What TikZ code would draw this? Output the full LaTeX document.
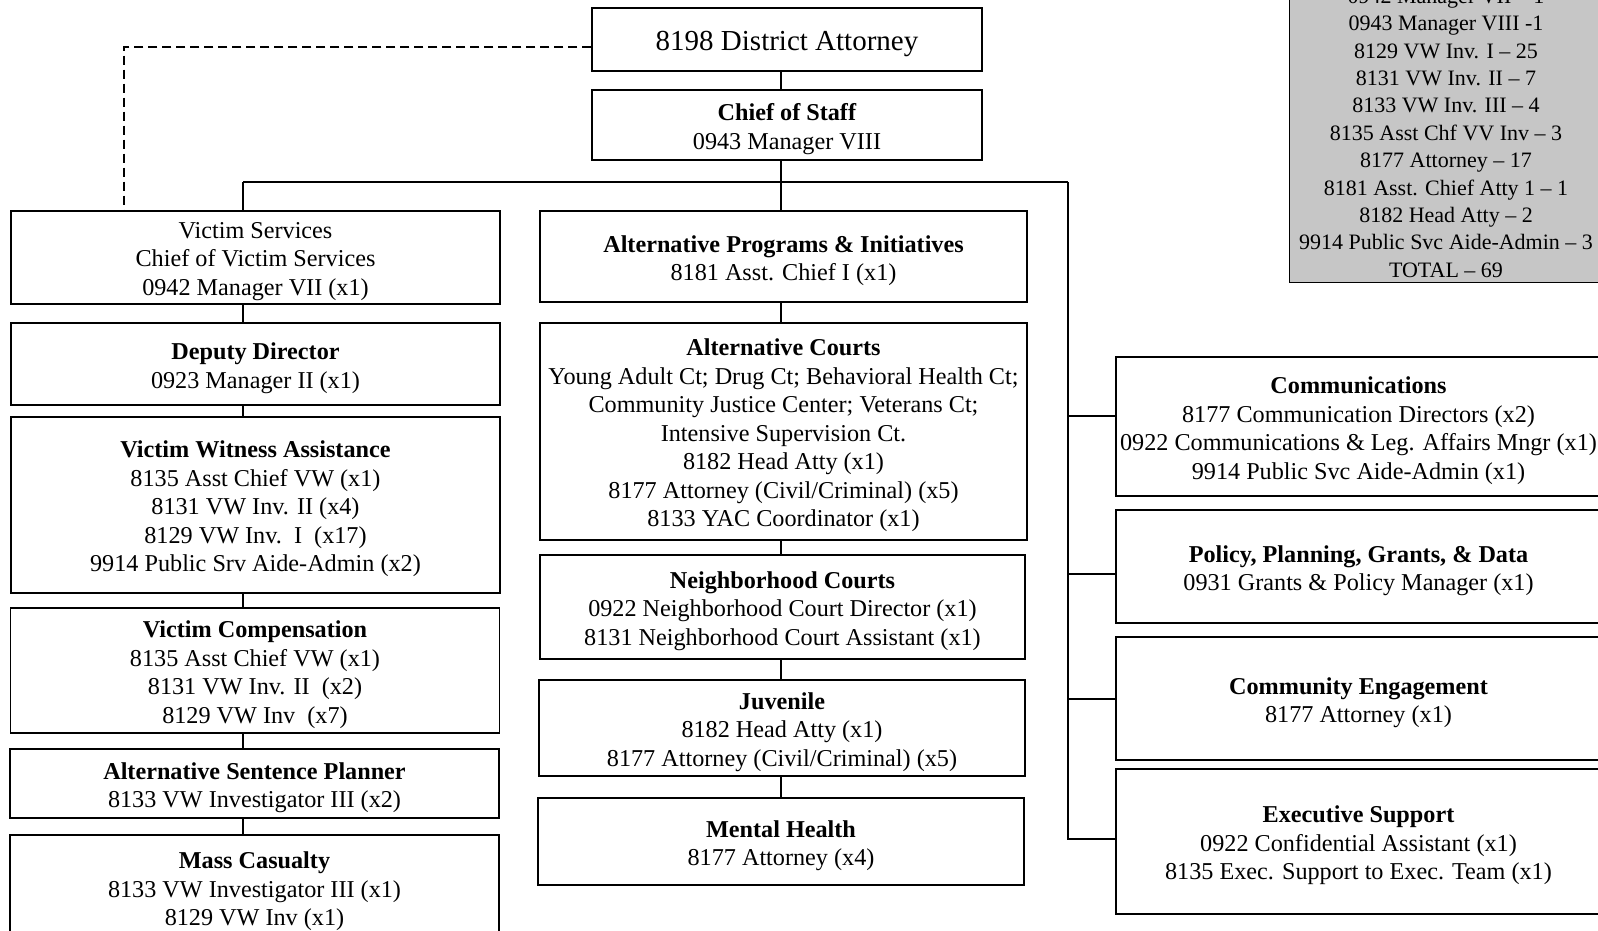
\documentclass[tikz,border=0pt]{standalone}
\usepackage{fontspec}
\setmainfont{Liberation Serif}
\begin{document}
\tikzset{
 box/.style={draw, line width=1.2pt, inner sep=0pt},
 txt/.style={align=center, inner sep=0pt, font=\fontsize{24.2}{28.5}\selectfont},
 conn/.style={line width=1.2pt},
 dashconn/.style={line width=1.3pt, dash pattern=on 9pt off 5pt},
 graybox/.style={draw, line width=1pt, fill=gray!45, inner sep=0pt},
 graytext/.style={align=center, inner sep=0pt, font=\fontsize{22}{27.4}\selectfont},
}
\newcommand{\boxtext}[3]{\node[txt,#3] (#1-t) at ([yshift=-4pt]#1.center) {#2};}
\begin{tikzpicture}[x=1pt,y=-1pt]
\useasboundingbox (0,0) rectangle (1598,931);
\clip (0,0) rectangle (1598,931);
\fill[white] (0,0) rectangle (1598,931);

% boxes
\node[box, minimum width=390, minimum height=63] (da) at (787,39.5) {};
\node[box, minimum width=390, minimum height=70] (cos) at (787,125) {};
\node[box, minimum width=489, minimum height=93] (vs) at (255.5,257.5) {};
\node[box, minimum width=489, minimum height=82] (dd) at (255.5,364) {};
\node[box, minimum width=489, minimum height=176] (vwa) at (255.5,505) {};
\node[box, minimum width=489, minimum height=125] (vc) at (255,670.5) {};
\node[box, minimum width=489, minimum height=69] (asp) at (254.5,783.5) {};
\node[box, minimum width=489, minimum height=105] (mc) at (254.5,887.5) {};
\node[box, minimum width=487, minimum height=91] (api) at (783.5,256.5) {};
\node[box, minimum width=487, minimum height=217] (ac) at (783.5,431.5) {};
\node[box, minimum width=485, minimum height=104] (nc) at (782.5,607) {};
\node[box, minimum width=486, minimum height=96] (juv) at (782,728) {};
\node[box, minimum width=486, minimum height=87] (mh) at (781,841.5) {};
\node[box, minimum width=485, minimum height=139] (comm) at (1358.5,426.5) {};
\node[box, minimum width=485, minimum height=113] (ppgd) at (1358.5,566.5) {};
\node[box, minimum width=485, minimum height=123] (ce) at (1358.5,698.5) {};
\node[box, minimum width=485, minimum height=145] (es) at (1358.5,841.5) {};

% texts
\boxtext{da}{8198 District Attorney}{font=\fontsize{29}{33}\selectfont}
\boxtext{cos}{\textbf{Chief of Staff}\\0943 Manager VIII}{}
\boxtext{vs}{Victim Services\\Chief of Victim Services\\0942 Manager VII (x1)}{}
\boxtext{dd}{\textbf{Deputy Director}\\0923 Manager II (x1)}{}
\boxtext{vwa}{\textbf{Victim Witness Assistance}\\8135 Asst Chief VW (x1)\\8131 VW Inv. II (x4)\\8129 VW Inv.\ \ I\ \ (x17)\\9914 Public Srv Aide-Admin (x2)}{}
\boxtext{vc}{\textbf{Victim Compensation}\\8135 Asst Chief VW (x1)\\8131 VW Inv. II\ \ (x2)\\8129 VW Inv\ \ (x7)}{}
\boxtext{asp}{\textbf{Alternative Sentence Planner}\\8133 VW Investigator III (x2)}{}
\boxtext{mc}{\textbf{Mass Casualty}\\8133 VW Investigator III (x1)\\8129 VW Inv (x1)}{}
\boxtext{api}{\textbf{Alternative Programs \& Initiatives}\\8181 Asst. Chief I (x1)}{}
\boxtext{ac}{\textbf{Alternative Courts}\\Young Adult Ct; Drug Ct; Behavioral Health Ct;\\Community Justice Center; Veterans Ct;\\Intensive Supervision Ct.\\8182 Head Atty (x1)\\8177 Attorney (Civil/Criminal) (x5)\\8133 YAC Coordinator (x1)}{}
\boxtext{nc}{\textbf{Neighborhood Courts}\\0922 Neighborhood Court Director (x1)\\8131 Neighborhood Court Assistant (x1)}{}
\boxtext{juv}{\textbf{Juvenile}\\8182 Head Atty (x1)\\8177 Attorney (Civil/Criminal) (x5)}{}
\boxtext{mh}{\textbf{Mental Health}\\8177 Attorney (x4)}{}
\boxtext{comm}{\textbf{Communications}\\8177 Communication Directors (x2)\\0922 Communications \& Leg. Affairs Mngr (x1)\\9914 Public Svc Aide-Admin (x1)}{}
\boxtext{ppgd}{\textbf{Policy, Planning, Grants, \& Data}\\0931 Grants \& Policy Manager (x1)}{}
\boxtext{ce}{\textbf{Community Engagement}\\8177 Attorney (x1)}{}
\boxtext{es}{\textbf{Executive Support}\\0922 Confidential Assistant (x1)\\8135 Exec. Support to Exec. Team (x1)}{}

% totals box
\node[graybox, minimum width=316, minimum height=312] (tot) at (1447,126) {};
\node[graytext] (totx) at (1446,133) {0942 Manager VII -- 1\\0943 Manager VIII -1\\8129 VW Inv. I -- 25\\8131 VW Inv. II -- 7\\8133 VW Inv. III -- 4\\8135 Asst Chf VV Inv -- 3\\8177 Attorney -- 17\\8181 Asst. Chief Atty 1 -- 1\\8182 Head Atty -- 2\\9914 Public Svc Aide-Admin -- 3\\TOTAL -- 69};

% connector coordinates
\coordinate (lb) at (243,182);
\coordinate (mid) at (781,182);
\coordinate (rb) at (1068,182);
\coordinate (dl) at (124,47);

% main connectors
\draw[conn] (da.south -| mid) -- (cos.north -| mid);
\draw[conn] (cos.south -| mid) -- (mid);
\draw[conn] (lb) -- (rb);
\draw[conn] (mid) -- (api.north -| mid);

% left column chain
\draw[conn] (lb) -- (vs.north -| lb);
\draw[conn] (vs.south -| lb) -- (dd.north -| lb);
\draw[conn] (dd.south -| lb) -- (vwa.north -| lb);
\draw[conn] (vwa.south -| lb) -- (vc.north -| lb);
\draw[conn] (vc.south -| lb) -- (asp.north -| lb);
\draw[conn] (asp.south -| lb) -- (mc.north -| lb);

% middle column chain
\draw[conn] (api.south -| mid) -- (ac.north -| mid);
\draw[conn] (ac.south -| mid) -- (nc.north -| mid);
\draw[conn] (nc.south -| mid) -- (juv.north -| mid);
\draw[conn] (juv.south -| mid) -- (mh.north -| mid);

% right bus
\path ([yshift=10.5pt]comm.west) coordinate (c1);
\path ([yshift=-7.5pt]ppgd.west) coordinate (c2);
\path ([yshift=-0.5pt]ce.west) coordinate (c3);
\path ([yshift=2.5pt]es.west) coordinate (c4);
\draw[conn] (rb) -- (c4 -| rb) -- (c4);
\draw[conn] (c1 -| rb) -- (c1);
\draw[conn] (c2 -| rb) -- (c2);
\draw[conn] (c3 -| rb) -- (c3);

% dashed link
\path ([yshift=-7.5pt]da.west) coordinate (d1);
\draw[dashconn] (d1) -- (d1 -| dl) -- (vs.north -| dl);
\end{tikzpicture}
\end{document}
